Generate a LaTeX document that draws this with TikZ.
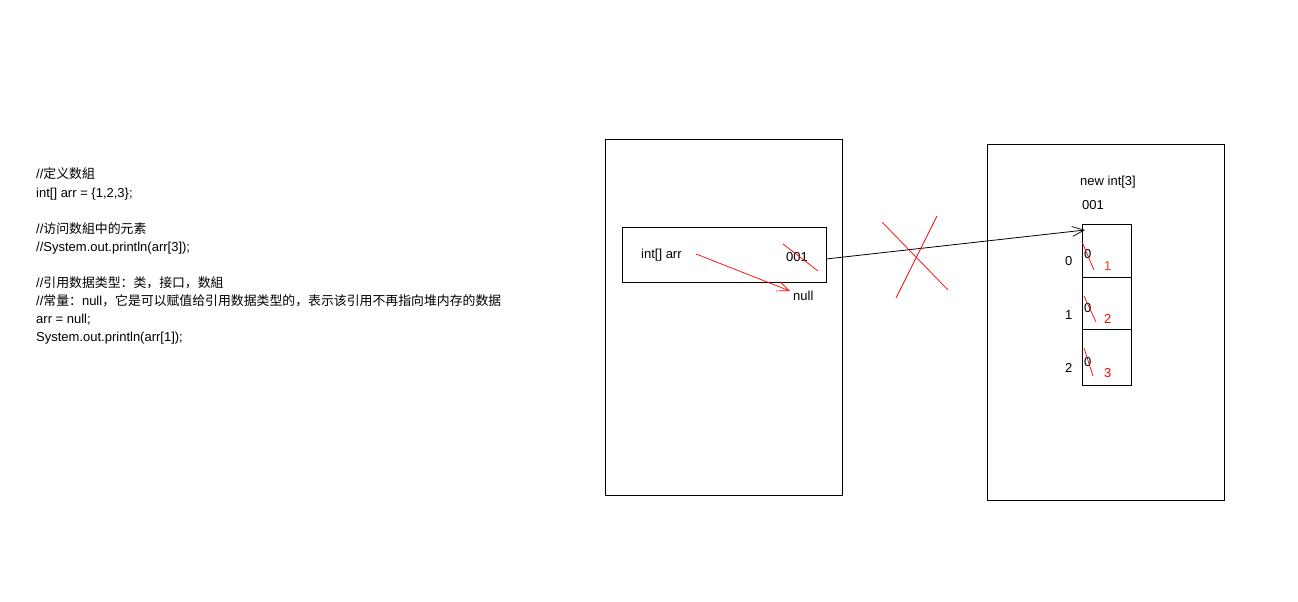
\documentclass[tikz,border=0pt]{standalone}
\usepackage{fontspec}
\setmainfont{Liberation Sans}
\newfontfamily\cjk[Scale=0.99]{Noto Sans CJK SC}
\newcommand{\zh}[1]{{\cjk #1}}
\usetikzlibrary{arrows.meta}
\begin{document}
\begin{tikzpicture}[x=1pt,y=-1pt,
  txt/.style={font=\fontsize{13}{15}\selectfont,inner sep=0pt,anchor=base west},
  box/.style={draw=black,line width=0.8pt},
  redl/.style={draw=red,line width=0.7pt},
  barb/.style={-{Straight Barb[length=12pt,width=10pt,line width=0.7pt]}}]
\useasboundingbox (0,0) rectangle (1298,602);
% code text
\node[txt] (l1) at (36,178) {//\zh{定义数組}};
\node[txt] (l2) at (36,197) {int[] arr = \{1,2,3\};};
\node[txt] (l3) at (36,233) {//\zh{访问数組中的元素}};
\node[txt] (l4) at (36,251) {//System.out.println(arr[3]);};
\node[txt] (l5) at (36,287) {//\zh{引用数据类型：类，接口，数組}};
\node[txt] (l6) at (36,305) {//\zh{常量：}null\zh{，它是可以赋值给引用数据类型的，表示该引用不再指向堆内存的数据}};
\node[txt] (l7) at (36,323) {arr = null;};
\node[txt] (l8) at (36,341) {System.out.println(arr[1]);};
% stack
\draw[box] (605,139) rectangle (842,495);
\node[box,draw,minimum width=204pt,minimum height=55pt,inner sep=0pt] (var) at (724,254.5) {};
\node[txt] (varname) at (641,258) {int[] arr};
\node[txt] (addr) at (786,261) {001};
\draw[redl] (783,244) -- (818,271);
\coordinate (arrS) at (696,254);
\node[txt] (null) at (793,300) {null};
\coordinate (nullE) at (790,291);
\draw[redl,barb] (arrS) -- (nullE);
% heap
\draw[box] (987,144) rectangle (1224,500);
\node[txt] (newint) at (1080,185) {new int[3]};
\node[txt] (haddr) at (1082,209) {001};
\node[box,draw,minimum width=49pt,minimum height=53pt,inner sep=0pt,anchor=north west] (c0) at (1082,224) {};
\node[box,draw,minimum width=49pt,minimum height=52pt,inner sep=0pt,anchor=north west] (c1) at (1082,277) {};
\node[box,draw,minimum width=49pt,minimum height=56pt,inner sep=0pt,anchor=north west] (c2) at (1082,329) {};
\node[txt] (i0) at (1065,265) {0};
\node[txt] (i1) at (1065,319) {1};
\node[txt] (i2) at (1065,372) {2};
\node[txt] (z0) at (1084,258) {0};
\node[txt] (z1) at (1084,312) {0};
\node[txt] (z2) at (1084,366) {0};
\draw[redl] (1082,242) -- (1094,270);
\draw[redl] (1084,296) -- (1096,322);
\draw[redl] (1084,348) -- (1093,376);
\node[txt,text={rgb,255:red,245;green,60;blue,20}] (v1) at (1104,270) {1};
\node[txt,text=red] (v2) at (1104,323) {2};
\node[txt,text=red] (v3) at (1104,377) {3};
% reference arrow
\coordinate (refS) at (826,259);
\coordinate (refE) at (1085,230);
\draw[line width=0.8pt,barb] (refS) -- (refE);
% red X
\draw[redl] (882,222) -- (948,290);
\draw[redl] (937,216) -- (896,298);
\end{tikzpicture}
\end{document}
